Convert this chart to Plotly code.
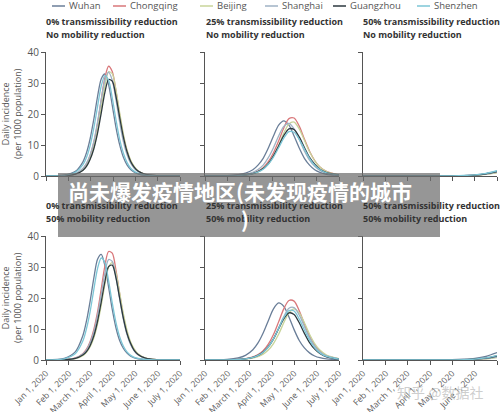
import plotly.graph_objects as go

W, H = 500, 412

cities = ["Wuhan", "Chongqing", "Beijing", "Shanghai", "Guangzhou", "Shenzhen"]
city_colors = ["#6a7e98", "#d9777a", "#c8d49a", "#9fb2c4", "#2d393f", "#7cc6d6"]

title_line1 = ["0% transmissibility reduction", "25% transmissibility reduction", "50% transmissibility reduction"]
title_line2 = ["No mobility reduction", "50% mobility reduction"]

tick_dates = ["2020-01-01", "2020-02-01", "2020-03-01", "2020-04-01", "2020-05-01", "2020-06-01", "2020-07-01"]
tick_text = ["Jan 1, 2020", "Feb 1, 2020", "March 1, 2020", "April 1, 2020", "May 1, 2020", "June 1, 2020", "July 1, 2020"]

# sample dates for the three columns
dates_early = ["2020-01-01", "2020-01-26", "2020-02-10", "2020-02-20", "2020-02-25", "2020-03-01",
               "2020-03-06", "2020-03-11", "2020-03-16", "2020-03-21", "2020-03-26", "2020-03-31",
               "2020-04-05", "2020-04-10", "2020-04-15", "2020-04-20", "2020-04-25", "2020-04-30",
               "2020-05-05", "2020-05-15", "2020-05-30", "2020-07-01"]
dates_mid = ["2020-01-01", "2020-01-31", "2020-02-15", "2020-02-25", "2020-03-06", "2020-03-13",
             "2020-03-20", "2020-03-27", "2020-04-03", "2020-04-10", "2020-04-17", "2020-04-24",
             "2020-05-01", "2020-05-08", "2020-05-15", "2020-05-22", "2020-05-29", "2020-06-05",
             "2020-06-14", "2020-07-01"]
dates_late = ["2020-01-01", "2020-03-01", "2020-04-01", "2020-05-01", "2020-05-17", "2020-06-01",
              "2020-06-16", "2020-07-01"]

# 0% transmissibility, no mobility reduction
panel_a = {
    "Wuhan":     [0, 0.27, 1.5, 4.5, 7.5, 12.1, 18.4, 25.6, 31.3, 32.9, 29.5, 22.8, 15.7, 10.1, 6.1, 3.6, 2.1, 1.2, 0.7, 0.2, 0.05, 0],
    "Chongqing": [0, 0.13, 0.73, 2.3, 3.9, 6.6, 10.8, 16.9, 24.5, 31.7, 35.4, 33.7, 27.5, 19.8, 13.0, 8.1, 4.8, 2.8, 1.6, 0.5, 0.1, 0],
    "Beijing":   [0, 0.1, 0.6, 1.9, 3.3, 5.8, 9.4, 14.9, 22.0, 29.1, 33.6, 33.0, 27.8, 20.5, 13.7, 8.5, 5.1, 3.0, 1.7, 0.56, 0.1, 0],
    "Shanghai":  [0, 0.14, 0.77, 2.4, 4.1, 6.9, 11.2, 17.4, 24.6, 30.9, 33.5, 30.9, 24.6, 17.4, 11.2, 6.9, 4.1, 2.4, 1.4, 0.44, 0.08, 0],
    "Guangzhou": [0, 0.1, 0.59, 1.8, 3.1, 5.4, 8.8, 13.8, 20.3, 27.0, 31.1, 30.6, 25.7, 19.0, 12.7, 7.9, 4.7, 2.8, 1.6, 0.52, 0.1, 0],
    "Shenzhen":  [0, 0.2, 1.2, 3.6, 6.0, 9.9, 15.5, 22.4, 29.0, 32.4, 30.9, 25.2, 18.2, 11.9, 7.4, 4.4, 2.5, 1.5, 0.85, 0.27, 0.05, 0],
}
# 25% transmissibility, no mobility reduction
panel_b = {
    "Wuhan":     [0.01, 0.12, 0.4, 0.92, 2.0, 3.5, 5.7, 9.0, 12.9, 16.4, 17.8, 16.4, 12.9, 9.0, 5.7, 3.5, 2.0, 1.15, 0.56, 0.14],
    "Chongqing": [0, 0.05, 0.17, 0.4, 0.9, 1.6, 2.7, 4.6, 7.5, 11.3, 15.5, 18.5, 18.7, 16.1, 11.9, 8.0, 5.0, 2.9, 1.5, 0.36],
    "Beijing":   [0, 0.05, 0.15, 0.33, 0.75, 1.3, 2.4, 4.0, 6.4, 9.9, 13.8, 16.8, 17.4, 15.2, 11.5, 7.8, 4.9, 2.9, 1.45, 0.37],
    "Shanghai":  [0, 0.07, 0.23, 0.53, 1.2, 2.1, 3.5, 5.9, 9.1, 12.9, 16.0, 17.0, 15.2, 11.8, 8.1, 5.1, 3.1, 1.8, 0.87, 0.22],
    "Guangzhou": [0, 0.04, 0.15, 0.35, 0.79, 1.4, 2.4, 4.0, 6.5, 9.7, 13.0, 15.2, 15.0, 12.6, 9.2, 6.0, 3.8, 2.2, 1.1, 0.27],
    "Shenzhen":  [0, 0.04, 0.14, 0.33, 0.74, 1.3, 2.2, 3.8, 6.1, 9.1, 12.2, 14.3, 14.1, 11.8, 8.7, 5.7, 3.5, 2.1, 1.0, 0.26],
}
# 50% transmissibility, no mobility reduction
panel_c = {
    "Wuhan":     [0, 0, 0, 0.05, 0.15, 0.35, 0.8, 1.6],
    "Chongqing": [0, 0, 0, 0.03, 0.1, 0.25, 0.6, 1.2],
    "Beijing":   [0, 0, 0, 0.03, 0.08, 0.2, 0.5, 1.0],
    "Shanghai":  [0, 0, 0, 0.04, 0.1, 0.28, 0.65, 1.3],
    "Guangzhou": [0, 0, 0, 0.04, 0.12, 0.3, 0.7, 1.4],
    "Shenzhen":  [0, 0, 0.01, 0.06, 0.16, 0.38, 0.85, 1.7],
}
# 0% transmissibility, 50% mobility reduction
panel_d = {
    "Wuhan":     [0, 0.5, 2.7, 7.8, 12.6, 19.1, 26.5, 32.5, 34.1, 30.5, 23.6, 16.3, 10.4, 6.3, 3.8, 2.2, 1.2, 0.7, 0.4, 0.13, 0.03, 0],
    "Chongqing": [0, 0.1, 0.66, 2.0, 3.5, 6.0, 9.9, 15.5, 22.9, 30.4, 35.0, 34.5, 29.0, 21.4, 14.3, 8.9, 5.3, 3.1, 1.8, 0.59, 0.1, 0],
    "Beijing":   [0, 0.08, 0.46, 1.4, 2.5, 4.3, 7.2, 11.6, 17.6, 24.4, 29.9, 31.4, 28.1, 21.7, 15.0, 9.6, 5.8, 3.5, 2.0, 0.65, 0.12, 0],
    "Shanghai":  [0, 0.1, 0.61, 1.9, 3.2, 5.6, 9.1, 14.4, 21.2, 28.1, 32.4, 31.8, 26.8, 19.8, 13.2, 8.2, 4.9, 2.9, 1.7, 0.54, 0.1, 0],
    "Guangzhou": [0, 0.08, 0.51, 1.6, 2.7, 4.7, 7.8, 12.5, 18.7, 25.3, 30.1, 30.6, 26.5, 20.0, 13.6, 8.6, 5.3, 3.0, 1.8, 0.58, 0.1, 0],
    "Shenzhen":  [0, 0.4, 2.1, 6.1, 10.1, 15.7, 22.8, 29.5, 32.9, 31.4, 25.6, 18.4, 12.1, 7.5, 4.5, 2.6, 1.5, 0.86, 0.5, 0.16, 0.03, 0],
}
# 25% transmissibility, 50% mobility reduction
panel_e = {
    "Wuhan":     [0.01, 0.2, 0.68, 1.5, 3.3, 5.5, 8.7, 12.7, 16.5, 18.4, 17.3, 13.9, 9.8, 6.3, 3.9, 2.3, 1.3, 0.74, 0.35, 0.09],
    "Chongqing": [0, 0.05, 0.19, 0.44, 1.0, 1.75, 3.0, 5.1, 8.2, 12.3, 16.5, 19.2, 19.0, 15.9, 11.6, 7.6, 4.8, 2.8, 1.4, 0.35],
    "Beijing":   [0, 0.03, 0.12, 0.27, 0.61, 1.1, 1.9, 3.2, 5.3, 8.3, 12.0, 15.2, 16.5, 15.2, 12.0, 8.3, 5.3, 3.2, 1.6, 0.41],
    "Shanghai":  [0, 0.04, 0.16, 0.37, 0.81, 1.4, 2.5, 4.2, 6.7, 10.3, 14.0, 16.7, 16.9, 14.5, 10.8, 7.2, 4.5, 2.7, 1.3, 0.33],
    "Guangzhou": [0, 0.04, 0.17, 0.38, 0.85, 1.5, 2.6, 4.3, 6.8, 10.1, 13.3, 15.2, 14.7, 12.0, 8.6, 5.6, 3.5, 2.1, 1.0, 0.25],
    "Shenzhen":  [0, 0.04, 0.16, 0.36, 0.83, 1.5, 2.5, 4.2, 6.8, 10.2, 13.7, 15.9, 15.8, 13.2, 9.7, 6.4, 3.9, 2.3, 1.15, 0.29],
}
# 50% transmissibility, 50% mobility reduction
panel_f = {
    "Wuhan":     [0, 0, 0.02, 0.1, 0.25, 0.55, 1.2, 2.4],
    "Chongqing": [0, 0, 0, 0.03, 0.08, 0.2, 0.45, 1.0],
    "Beijing":   [0, 0, 0, 0.02, 0.06, 0.15, 0.35, 0.8],
    "Shanghai":  [0, 0, 0, 0.03, 0.07, 0.18, 0.42, 0.9],
    "Guangzhou": [0, 0, 0, 0.04, 0.1, 0.25, 0.6, 1.3],
    "Shenzhen":  [0, 0, 0.01, 0.05, 0.12, 0.3, 0.65, 1.4],
}

panels = [(panel_a, dates_early), (panel_b, dates_mid), (panel_c, dates_late),
          (panel_d, dates_early), (panel_e, dates_mid), (panel_f, dates_late)]

FONT = "Open Sans"
AXIS_COL = "#555555"


def px_x(x):
    return x / W


def px_y(y):
    return 1 - y / H


# plot boxes in pixels
col_x = [(46, 180), (205, 339), (363, 497)]
row_y = [(52, 176), (236, 360)]

fig = go.Figure()
layout = {}
for i, (data, dates) in enumerate(panels):
    r, c = divmod(i, 3)
    n = "" if i == 0 else str(i + 1)
    for city, color in zip(cities, city_colors):
        fig.add_trace(go.Scatter(
            x=dates, y=data[city], mode="lines", name=city,
            line=dict(color=color, width=1.3, shape="spline", smoothing=0.8),
            xaxis="x" + n, yaxis="y" + n, showlegend=False, hoverinfo="skip",
        ))
    layout["xaxis" + n] = dict(
        domain=[px_x(col_x[c][0]), px_x(col_x[c][1])], anchor="y" + n,
        type="date", range=["2020-01-01", "2020-07-01"], automargin=False,
        tickvals=tick_dates, ticktext=tick_text, showticklabels=(r == 1),
        tickangle=-45, ticks="outside", ticklen=4, tickwidth=1, tickcolor=AXIS_COL,
        showline=True, linecolor=AXIS_COL, linewidth=1.2, showgrid=False, zeroline=False,
        tickfont=dict(family=FONT, size=8.5, color="#5a5a5a"),
    )
    layout["yaxis" + n] = dict(
        domain=[px_y(row_y[r][1]), px_y(row_y[r][0])], anchor="x" + n,
        range=[0, 40], tickvals=[0, 10, 20, 30, 40], showticklabels=(c == 0),
        automargin=False,
        ticks="outside", ticklen=4, tickwidth=1, tickcolor=AXIS_COL,
        showline=True, linecolor=AXIS_COL, linewidth=1.2, showgrid=False, zeroline=False,
        tickfont=dict(family=FONT, size=10, color="#555555"),
    )

annotations = []
shapes = []

# panel titles
for r, line2 in enumerate(title_line2):
    y1 = [22, 205][r]
    for c, line1 in enumerate(title_line1):
        x0 = [44, 204, 361][c]
        for txt, yy in [(line1, y1), (line2, y1 + 13)]:
            annotations.append(dict(
                text=txt, x=px_x(x0), y=px_y(yy), xref="paper", yref="paper",
                xanchor="left", yanchor="middle", showarrow=False,
                font=dict(family=FONT, size=9, color="#333333", weight="bold"),
            ))

# y axis titles
for yc in [114, 298]:
    annotations.append(dict(
        text="Daily incidence<br>(per 1000 population)", textangle=-90,
        x=px_x(11), y=px_y(yc), xref="paper", yref="paper",
        xanchor="center", yanchor="middle", showarrow=False,
        font=dict(family=FONT, size=9, color="#555555"),
    ))

# legend along the top
legend_x = [52, 113, 200, 265, 333, 417]
for city, color, lx in zip(cities, city_colors, legend_x):
    shapes.append(dict(type="line", xref="paper", yref="paper",
                       x0=px_x(lx), x1=px_x(lx + 13), y0=px_y(6), y1=px_y(6),
                       line=dict(color=color, width=1.5)))
    annotations.append(dict(
        text=city, x=px_x(lx + 15), y=px_y(6), xref="paper", yref="paper",
        xanchor="left", yanchor="middle", showarrow=False,
        font=dict(family=FONT, size=9.5, color="#555555"),
    ))

# grey caption banner over the middle
shapes.append(dict(type="rect", xref="paper", yref="paper", layer="above",
                   x0=px_x(58), x1=px_x(440), y0=px_y(237), y1=px_y(173),
                   fillcolor="rgba(110,110,110,0.72)", line=dict(width=0)))
annotations.append(dict(
    text="尚未爆发疫情地区(未发现疫情的城市", x=px_x(240), y=px_y(191),
    xref="paper", yref="paper", xanchor="center", yanchor="middle", showarrow=False,
    font=dict(family="Noto Sans CJK SC", size=21, color="white", weight="bold"),
))
annotations.append(dict(
    text=")", x=px_x(245), y=px_y(219),
    xref="paper", yref="paper", xanchor="center", yanchor="middle", showarrow=False,
    font=dict(family="Noto Sans CJK SC", size=21, color="white", weight="bold"),
))

# watermark
annotations.append(dict(
    text="知乎 @数据社", x=px_x(440), y=px_y(392),
    xref="paper", yref="paper", xanchor="center", yanchor="middle", showarrow=False,
    font=dict(family="Noto Sans CJK SC", size=14, color="rgba(190,190,190,0.75)"),
))

fig.update_layout(
    width=W, height=H,
    margin=dict(l=0, r=0, t=0, b=0, autoexpand=False),
    paper_bgcolor="white", plot_bgcolor="white",
    showlegend=False,
    annotations=annotations, shapes=shapes,
    **layout,
)

# drop the default page margin so the 500x412 figure fills the window
fig.write_html("out.html", config={"displayModeBar": False},
               post_script="document.body.style.margin = '0px';")
